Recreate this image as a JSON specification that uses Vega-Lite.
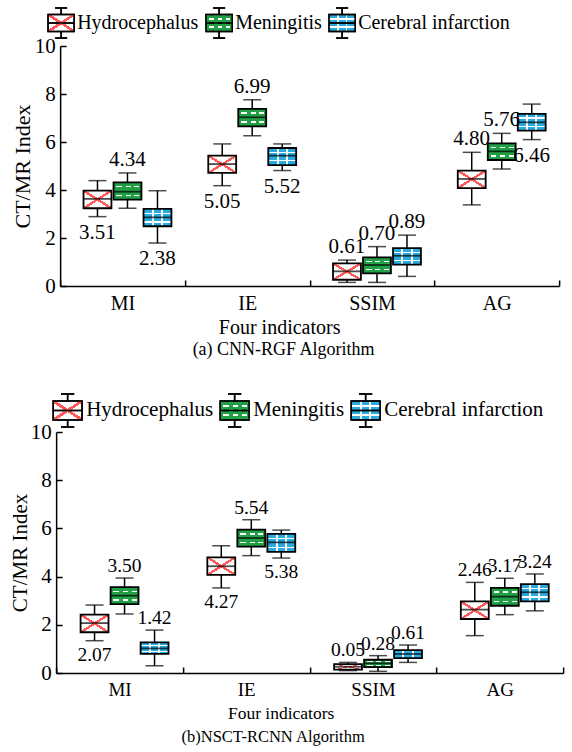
{
  "$schema": "https://vega.github.io/schema/vega-lite/v6.json",
  "padding": {"left": 9, "top": 7, "right": 4, "bottom": 4},
  "config": {
    "view": {"stroke": null},
    "font": "Liberation Serif",
    "text": {"font": "Liberation Serif"},
    "title": {"font": "Liberation Serif", "fontWeight": "normal", "color": "black"},
    "axis": {"labelFont": "Liberation Serif", "titleFont": "Liberation Serif", "titleFontWeight": "normal", "labelColor": "black", "titleColor": "black", "tickColor": "black", "domainColor": "black", "tickSize": -6, "tickWidth": 1.5, "domainWidth": 1.5, "grid": false},
    "axisY": {"labelPadding": 11, "titlePadding": 0, "labelFontSize": 21, "titleFontSize": 21.5},
    "axisX": {"labelPadding": 13, "labelAngle": 0},
    "legend": {"labelFont": "Liberation Serif", "titleFont": "Liberation Serif", "labelColor": "black"}
  },
  "data": {"values": [
    {"algo": "a", "ind": "MI", "dis": "Hydrocephalus", "min": 2.89, "q1": 3.24, "med": 3.63, "q3": 3.97, "max": 4.39, "lab": "3.51", "pos": "below"},
    {"algo": "a", "ind": "MI", "dis": "Meningitis", "min": 3.24, "q1": 3.6, "med": 3.93, "q3": 4.32, "max": 4.71, "lab": "4.34", "pos": "above"},
    {"algo": "a", "ind": "MI", "dis": "Cerebral infarction", "min": 1.79, "q1": 2.49, "med": 2.86, "q3": 3.21, "max": 3.97, "lab": "2.38", "pos": "below"},
    {"algo": "a", "ind": "IE", "dis": "Hydrocephalus", "min": 4.18, "q1": 4.71, "med": 5.08, "q3": 5.43, "max": 5.92, "lab": "5.05", "pos": "below"},
    {"algo": "a", "ind": "IE", "dis": "Meningitis", "min": 6.26, "q1": 6.65, "med": 7.03, "q3": 7.38, "max": 7.76, "lab": "6.99", "pos": "above"},
    {"algo": "a", "ind": "IE", "dis": "Cerebral infarction", "min": 4.81, "q1": 5.04, "med": 5.43, "q3": 5.75, "max": 5.92, "lab": "5.52", "pos": "below"},
    {"algo": "a", "ind": "SSIM", "dis": "Hydrocephalus", "min": 0.15, "q1": 0.26, "med": 0.61, "q3": 0.94, "max": 1.08, "lab": "0.61", "pos": "above"},
    {"algo": "a", "ind": "SSIM", "dis": "Meningitis", "min": 0.15, "q1": 0.53, "med": 0.875, "q3": 1.19, "max": 1.64, "lab": "0.70", "pos": "above"},
    {"algo": "a", "ind": "SSIM", "dis": "Cerebral infarction", "min": 0.4, "q1": 0.89, "med": 1.26, "q3": 1.58, "max": 2.12, "lab": "0.89", "pos": "above"},
    {"algo": "a", "ind": "AG", "dis": "Hydrocephalus", "min": 3.38, "q1": 4.08, "med": 4.46, "q3": 4.81, "max": 5.57, "lab": "4.80", "pos": "above"},
    {"algo": "a", "ind": "AG", "dis": "Meningitis", "min": 4.875, "q1": 5.25, "med": 5.61, "q3": 5.94, "max": 6.36, "lab": "5.76", "pos": "above"},
    {"algo": "a", "ind": "AG", "dis": "Cerebral infarction", "min": 6.1, "q1": 6.47, "med": 6.82, "q3": 7.17, "max": 7.58, "lab": "6.46", "pos": "below"},
    {"algo": "b", "ind": "MI", "dis": "Hydrocephalus", "min": 1.34, "q1": 1.69, "med": 2.07, "q3": 2.42, "max": 2.82, "lab": "2.07", "pos": "below"},
    {"algo": "b", "ind": "MI", "dis": "Meningitis", "min": 2.45, "q1": 2.86, "med": 3.21, "q3": 3.56, "max": 3.94, "lab": "3.50", "pos": "above"},
    {"algo": "b", "ind": "MI", "dis": "Cerebral infarction", "min": 0.3, "q1": 0.79, "med": 1.02, "q3": 1.27, "max": 1.78, "lab": "1.42", "pos": "above"},
    {"algo": "b", "ind": "IE", "dis": "Hydrocephalus", "min": 3.53, "q1": 4.07, "med": 4.43, "q3": 4.8, "max": 5.28, "lab": "4.27", "pos": "below"},
    {"algo": "b", "ind": "IE", "dis": "Meningitis", "min": 4.87, "q1": 5.24, "med": 5.6, "q3": 5.95, "max": 6.36, "lab": "5.54", "pos": "above"},
    {"algo": "b", "ind": "IE", "dis": "Cerebral infarction", "min": 4.77, "q1": 5.03, "med": 5.42, "q3": 5.77, "max": 5.93, "lab": "5.38", "pos": "below"},
    {"algo": "b", "ind": "SSIM", "dis": "Hydrocephalus", "min": 0.1, "q1": 0.14, "med": 0.26, "q3": 0.37, "max": 0.44, "lab": "0.05", "pos": "above"},
    {"algo": "b", "ind": "SSIM", "dis": "Meningitis", "min": 0.07, "q1": 0.24, "med": 0.4, "q3": 0.55, "max": 0.72, "lab": "0.28", "pos": "above"},
    {"algo": "b", "ind": "SSIM", "dis": "Cerebral infarction", "min": 0.44, "q1": 0.62, "med": 0.79, "q3": 0.95, "max": 1.16, "lab": "0.61", "pos": "above"},
    {"algo": "b", "ind": "AG", "dis": "Hydrocephalus", "min": 1.55, "q1": 2.24, "med": 2.63, "q3": 2.97, "max": 3.76, "lab": "2.46", "pos": "above"},
    {"algo": "b", "ind": "AG", "dis": "Meningitis", "min": 2.42, "q1": 2.79, "med": 3.17, "q3": 3.53, "max": 3.93, "lab": "3.17", "pos": "above"},
    {"algo": "b", "ind": "AG", "dis": "Cerebral infarction", "min": 2.58, "q1": 2.97, "med": 3.35, "q3": 3.69, "max": 4.11, "lab": "3.24", "pos": "above"}
  ]},
  "vconcat": [
    {
      "width": 499, "height": 240,
      "transform": [{"filter": "datum.algo === 'a'"}],
      "title": {"text": "(a) CNN-RGF Algorithm", "orient": "bottom", "anchor": "middle", "frame": "group", "dx": -26, "offset": 4, "font": "Liberation Serif", "fontSize": 18, "fontWeight": "normal", "color": "black"},
      "encoding": {
        "x": {"field": "ind", "type": "nominal", "sort": ["MI", "IE", "SSIM", "AG"], "scale": {"paddingInner": 0, "paddingOuter": 0},
          "axis": {"title": "Four indicators", "tickBand": "extent", "labelFontSize": 20, "titleFontSize": 20, "titlePadding": 4, "titleX": 219}},
        "xOffset": {"field": "dis", "type": "nominal", "sort": ["Hydrocephalus", "Meningitis", "Cerebral infarction"], "scale": {"paddingInner": 0.07, "paddingOuter": 0.614, "align": 0.635}}
      },
      "layer": [
        {"mark": {"type": "rule", "color": "black", "strokeWidth": 1.5},
         "encoding": {"y": {"field": "min", "type": "quantitative", "scale": {"domain": [0, 10], "nice": false}, "title": "CT/MR Index", "axis": {"values": [0, 2, 4, 6, 8, 10], "titleFontSize": 22}},
           "y2": {"field": "max"}}},
        {"mark": {"type": "tick", "color": "black", "size": 18, "thickness": 1.5},
         "encoding": {"y": {"field": "min", "type": "quantitative", "scale": {"domain": [0, 10], "nice": false}, "title": "CT/MR Index"}}},
        {"mark": {"type": "tick", "color": "black", "size": 18, "thickness": 1.5},
         "encoding": {"y": {"field": "max", "type": "quantitative", "scale": {"domain": [0, 10], "nice": false}, "title": "CT/MR Index"}}},
        {"transform": [{"filter": "datum.dis === 'Hydrocephalus'"}],
         "mark": {"type": "bar", "fill": {"gradient": "linear", "x1": 0, "y1": 0, "x2": 1, "y2": 1, "stops": [{"offset": 0, "color": "#ffffff"}, {"offset": 0.46, "color": "#ffffff"}, {"offset": 0.46, "color": "#ff5a5a"}, {"offset": 0.54, "color": "#ff5a5a"}, {"offset": 0.54, "color": "#ffffff"}, {"offset": 1, "color": "#ffffff"}]}},
         "encoding": {"y": {"field": "q1", "type": "quantitative", "scale": {"domain": [0, 10], "nice": false}, "title": "CT/MR Index"}, "y2": {"field": "q3"}}},
        {"transform": [{"filter": "datum.dis === 'Hydrocephalus'"}],
         "mark": {"type": "bar", "fill": {"gradient": "linear", "x1": 0, "y1": 1, "x2": 1, "y2": 0, "stops": [{"offset": 0, "color": "rgba(255,255,255,0)"}, {"offset": 0.46, "color": "rgba(255,255,255,0)"}, {"offset": 0.46, "color": "#ff5a5a"}, {"offset": 0.54, "color": "#ff5a5a"}, {"offset": 0.54, "color": "rgba(255,255,255,0)"}, {"offset": 1, "color": "rgba(255,255,255,0)"}]}},
         "encoding": {"y": {"field": "q1", "type": "quantitative", "scale": {"domain": [0, 10], "nice": false}, "title": "CT/MR Index"}, "y2": {"field": "q3"}}},
        {"transform": [{"filter": "datum.dis === 'Meningitis'"}],
         "mark": {"type": "bar", "fill": {"gradient": "linear", "x1": 0.5, "y1": 0, "x2": 0.5, "y2": 1, "stops": [{"offset": 0, "color": "#22a046"}, {"offset": 0.2, "color": "#22a046"}, {"offset": 0.2, "color": "#ffffff"}, {"offset": 0.29, "color": "#ffffff"}, {"offset": 0.29, "color": "#22a046"}, {"offset": 0.71, "color": "#22a046"}, {"offset": 0.71, "color": "#ffffff"}, {"offset": 0.8, "color": "#ffffff"}, {"offset": 0.8, "color": "#22a046"}, {"offset": 1, "color": "#22a046"}]}},
         "encoding": {"y": {"field": "q1", "type": "quantitative", "scale": {"domain": [0, 10], "nice": false}, "title": "CT/MR Index"}, "y2": {"field": "q3"}}},
        {"transform": [{"filter": "datum.dis === 'Meningitis'"}],
         "mark": {"type": "bar", "fill": {"gradient": "linear", "x1": 0, "y1": 0, "x2": 1, "y2": 0, "stops": [{"offset": 0, "color": "#22a046"}, {"offset": 0.1, "color": "#22a046"}, {"offset": 0.1, "color": "rgba(255,255,255,0)"}, {"offset": 0.31, "color": "rgba(255,255,255,0)"}, {"offset": 0.31, "color": "#22a046"}, {"offset": 0.44, "color": "#22a046"}, {"offset": 0.44, "color": "rgba(255,255,255,0)"}, {"offset": 0.62, "color": "rgba(255,255,255,0)"}, {"offset": 0.62, "color": "#22a046"}, {"offset": 0.75, "color": "#22a046"}, {"offset": 0.75, "color": "rgba(255,255,255,0)"}, {"offset": 0.93, "color": "rgba(255,255,255,0)"}, {"offset": 0.93, "color": "#22a046"}, {"offset": 1, "color": "#22a046"}]}},
         "encoding": {"y": {"field": "q1", "type": "quantitative", "scale": {"domain": [0, 10], "nice": false}, "title": "CT/MR Index"}, "y2": {"field": "q3"}}},
        {"transform": [{"filter": "datum.dis === 'Cerebral infarction'"}],
         "mark": {"type": "bar", "fill": {"gradient": "linear", "x1": 0, "y1": 0, "x2": 1, "y2": 0, "stops": [{"offset": 0, "color": "#29abe2"}, {"offset": 0.3, "color": "#29abe2"}, {"offset": 0.3, "color": "#ffffff"}, {"offset": 0.37, "color": "#ffffff"}, {"offset": 0.37, "color": "#29abe2"}, {"offset": 0.63, "color": "#29abe2"}, {"offset": 0.63, "color": "#ffffff"}, {"offset": 0.7, "color": "#ffffff"}, {"offset": 0.7, "color": "#29abe2"}, {"offset": 1, "color": "#29abe2"}]}},
         "encoding": {"y": {"field": "q1", "type": "quantitative", "scale": {"domain": [0, 10], "nice": false}, "title": "CT/MR Index"}, "y2": {"field": "q3"}}},
        {"transform": [{"filter": "datum.dis === 'Cerebral infarction'"}],
         "mark": {"type": "bar", "fill": {"gradient": "linear", "x1": 0.5, "y1": 0, "x2": 0.5, "y2": 1, "stops": [{"offset": 0, "color": "rgba(255,255,255,0)"}, {"offset": 0.21, "color": "rgba(255,255,255,0)"}, {"offset": 0.21, "color": "#ffffff"}, {"offset": 0.29, "color": "#ffffff"}, {"offset": 0.29, "color": "rgba(255,255,255,0)"}, {"offset": 0.71, "color": "rgba(255,255,255,0)"}, {"offset": 0.71, "color": "#ffffff"}, {"offset": 0.79, "color": "#ffffff"}, {"offset": 0.79, "color": "rgba(255,255,255,0)"}, {"offset": 1, "color": "rgba(255,255,255,0)"}]}},
         "encoding": {"y": {"field": "q1", "type": "quantitative", "scale": {"domain": [0, 10], "nice": false}, "title": "CT/MR Index"}, "y2": {"field": "q3"}}},
        {"mark": {"type": "bar", "fill": "transparent", "stroke": "black", "strokeWidth": 1.8},
         "encoding": {"y": {"field": "q1", "type": "quantitative", "scale": {"domain": [0, 10], "nice": false}, "title": "CT/MR Index"}, "y2": {"field": "q3"}}},
        {"mark": {"type": "tick", "color": "black", "size": 28, "thickness": 1.8},
         "encoding": {"y": {"field": "med", "type": "quantitative", "scale": {"domain": [0, 10], "nice": false}, "title": "CT/MR Index"}}},
        {"transform": [{"filter": "datum.pos === 'above'"}],
         "mark": {"type": "text", "baseline": "alphabetic", "dy": -7, "font": "Liberation Serif", "fontSize": 21, "color": "black"},
         "encoding": {"y": {"field": "max", "type": "quantitative", "scale": {"domain": [0, 10], "nice": false}, "title": "CT/MR Index"}, "text": {"field": "lab"}}},
        {"transform": [{"filter": "datum.pos === 'below'"}],
         "mark": {"type": "text", "baseline": "top", "dy": 5, "font": "Liberation Serif", "fontSize": 21, "color": "black"},
         "encoding": {"y": {"field": "min", "type": "quantitative", "scale": {"domain": [0, 10], "nice": false}, "title": "CT/MR Index"}, "text": {"field": "lab"}}},
        {"mark": {"type": "point", "opacity": 0},
         "encoding": {"y": {"field": "med", "type": "quantitative", "scale": {"domain": [0, 10], "nice": false}, "title": "CT/MR Index"},
           "stroke": {"field": "dis", "type": "nominal", "scale": {"domain": ["Hydrocephalus", "Meningitis", "Cerebral infarction"], "range": ["black", "black", "black"]},
             "legend": {"orient": "none", "legendX": -15, "legendY": -39, "direction": "horizontal", "columns": 3, "title": null, "padding": 0,
               "symbolType": "M-0.87,-0.57H0.87V0.57H-0.87Z M0,-0.57V-1 M-0.4,-1H0.4 M0,0.57V1 M-0.4,1H0.4 M-0.87,0H0.87",
               "symbolSize": 900, "symbolStrokeWidth": 1.5, "symbolOpacity": 1,
               "labelFont": "Liberation Serif", "labelFontSize": 20, "labelColor": "black", "labelOffset": 0, "columnPadding": 3, "labelLimit": 400,
               "encoding": {"symbols": {"opacity": {"value": 1}, "fill": {"value": {"expr": "datum.value === 'Hydrocephalus' ? {gradient: 'linear', x1: 0.785, y1: 0, x2: 0.215, y2: 1, stops: [{offset: 0, color: '#ffffff'}, {offset: 0.46, color: '#ffffff'}, {offset: 0.46, color: '#ff5a5a'}, {offset: 0.54, color: '#ff5a5a'}, {offset: 0.54, color: '#ffffff'}, {offset: 1, color: '#ffffff'}]} : datum.value === 'Meningitis' ? {gradient: 'linear', x1: 0.5, y1: 0, x2: 0.5, y2: 1, stops: [{offset: 0, color: '#22a046'}, {offset: 0.33, color: '#22a046'}, {offset: 0.33, color: '#ffffff'}, {offset: 0.385, color: '#ffffff'}, {offset: 0.385, color: '#22a046'}, {offset: 0.615, color: '#22a046'}, {offset: 0.615, color: '#ffffff'}, {offset: 0.67, color: '#ffffff'}, {offset: 0.67, color: '#22a046'}, {offset: 1, color: '#22a046'}]} : {gradient: 'linear', x1: 0, y1: 0, x2: 1, y2: 0, stops: [{offset: 0, color: '#29abe2'}, {offset: 0.3, color: '#29abe2'}, {offset: 0.3, color: '#ffffff'}, {offset: 0.37, color: '#ffffff'}, {offset: 0.37, color: '#29abe2'}, {offset: 0.63, color: '#29abe2'}, {offset: 0.63, color: '#ffffff'}, {offset: 0.7, color: '#ffffff'}, {offset: 0.7, color: '#29abe2'}, {offset: 1, color: '#29abe2'}]}"}}}}}}}},
        {"mark": {"type": "point", "opacity": 0},
         "encoding": {"y": {"field": "med", "type": "quantitative", "scale": {"domain": [0, 10], "nice": false}, "title": "CT/MR Index"},
           "shape": {"field": "dis", "type": "nominal", "sort": ["Hydrocephalus", "Meningitis", "Cerebral infarction"], "scale": {"range": ["M-0.87,-0.57H0.87V0.57H-0.87Z M0,-0.57V-1 M-0.4,-1H0.4 M0,0.57V1 M-0.4,1H0.4 M-0.87,0H0.87", "M-0.87,-0.57H0.87V0.57H-0.87Z M0,-0.57V-1 M-0.4,-1H0.4 M0,0.57V1 M-0.4,1H0.4 M-0.87,0H0.87", "M-0.87,-0.57H0.87V0.57H-0.87Z M0,-0.57V-1 M-0.4,-1H0.4 M0,0.57V1 M-0.4,1H0.4 M-0.87,0H0.87"]},
             "legend": {"orient": "none", "legendX": -15, "legendY": -39, "direction": "horizontal", "columns": 3, "title": null, "padding": 0,
               "symbolSize": 900, "symbolStrokeWidth": 1.5, "symbolOpacity": 1,
               "labelFont": "Liberation Serif", "labelFontSize": 20, "labelColor": "black", "labelOpacity": 0, "labelOffset": 0, "columnPadding": 3, "labelLimit": 400,
               "encoding": {"symbols": {"opacity": {"value": 1}, "stroke": {"value": "black"}, "strokeWidth": {"value": 1.5}, "fill": {"value": {"expr": "datum.value === 'Hydrocephalus' ? {gradient: 'linear', x1: 0.215, y1: 0, x2: 0.785, y2: 1, stops: [{offset: 0, color: 'rgba(255,255,255,0)'}, {offset: 0.46, color: 'rgba(255,255,255,0)'}, {offset: 0.46, color: '#ff5a5a'}, {offset: 0.54, color: '#ff5a5a'}, {offset: 0.54, color: 'rgba(255,255,255,0)'}, {offset: 1, color: 'rgba(255,255,255,0)'}]} : datum.value === 'Meningitis' ? {gradient: 'linear', x1: 0, y1: 0, x2: 1, y2: 0, stops: [{offset: 0, color: '#22a046'}, {offset: 0.1, color: '#22a046'}, {offset: 0.1, color: 'rgba(255,255,255,0)'}, {offset: 0.31, color: 'rgba(255,255,255,0)'}, {offset: 0.31, color: '#22a046'}, {offset: 0.44, color: '#22a046'}, {offset: 0.44, color: 'rgba(255,255,255,0)'}, {offset: 0.62, color: 'rgba(255,255,255,0)'}, {offset: 0.62, color: '#22a046'}, {offset: 0.75, color: '#22a046'}, {offset: 0.75, color: 'rgba(255,255,255,0)'}, {offset: 0.93, color: 'rgba(255,255,255,0)'}, {offset: 0.93, color: '#22a046'}, {offset: 1, color: '#22a046'}]} : {gradient: 'linear', x1: 0.5, y1: 0, x2: 0.5, y2: 1, stops: [{offset: 0, color: 'rgba(255,255,255,0)'}, {offset: 0.33, color: 'rgba(255,255,255,0)'}, {offset: 0.33, color: '#ffffff'}, {offset: 0.385, color: '#ffffff'}, {offset: 0.385, color: 'rgba(255,255,255,0)'}, {offset: 0.615, color: 'rgba(255,255,255,0)'}, {offset: 0.615, color: '#ffffff'}, {offset: 0.67, color: '#ffffff'}, {offset: 0.67, color: 'rgba(255,255,255,0)'}, {offset: 1, color: 'rgba(255,255,255,0)'}]}"}}}}}}}}
      ]
    },
    {
      "width": 507, "height": 241,
      "transform": [{"filter": "datum.algo === 'b'"}],
      "title": {"text": "(b)NSCT-RCNN Algorithm", "orient": "bottom", "anchor": "middle", "frame": "group", "dx": -36.5, "offset": 7, "font": "Liberation Serif", "fontSize": 16.5, "fontWeight": "normal", "color": "black"},
      "encoding": {
        "x": {"field": "ind", "type": "nominal", "sort": ["MI", "IE", "SSIM", "AG"], "scale": {"paddingInner": 0, "paddingOuter": 0},
          "axis": {"title": "Four indicators", "tickBand": "extent", "labelFontSize": 19, "titleFontSize": 17.5, "titlePadding": 5.5, "titleX": 224.5}},
        "xOffset": {"field": "dis", "type": "nominal", "sort": ["Hydrocephalus", "Meningitis", "Cerebral infarction"], "scale": {"paddingInner": 0.07, "paddingOuter": 0.647, "align": 0.63}}
      },
      "layer": [
        {"mark": {"type": "rule", "color": "black", "strokeWidth": 1.5},
         "encoding": {"y": {"field": "min", "type": "quantitative", "scale": {"domain": [0, 10], "nice": false}, "title": "CT/MR Index", "axis": {"values": [0, 2, 4, 6, 8, 10], "titleFontSize": 21}},
           "y2": {"field": "max"}}},
        {"mark": {"type": "tick", "color": "black", "size": 18, "thickness": 1.5},
         "encoding": {"y": {"field": "min", "type": "quantitative", "scale": {"domain": [0, 10], "nice": false}, "title": "CT/MR Index"}}},
        {"mark": {"type": "tick", "color": "black", "size": 18, "thickness": 1.5},
         "encoding": {"y": {"field": "max", "type": "quantitative", "scale": {"domain": [0, 10], "nice": false}, "title": "CT/MR Index"}}},
        {"transform": [{"filter": "datum.dis === 'Hydrocephalus'"}],
         "mark": {"type": "bar", "fill": {"gradient": "linear", "x1": 0, "y1": 0, "x2": 1, "y2": 1, "stops": [{"offset": 0, "color": "#ffffff"}, {"offset": 0.46, "color": "#ffffff"}, {"offset": 0.46, "color": "#ff5a5a"}, {"offset": 0.54, "color": "#ff5a5a"}, {"offset": 0.54, "color": "#ffffff"}, {"offset": 1, "color": "#ffffff"}]}},
         "encoding": {"y": {"field": "q1", "type": "quantitative", "scale": {"domain": [0, 10], "nice": false}, "title": "CT/MR Index"}, "y2": {"field": "q3"}}},
        {"transform": [{"filter": "datum.dis === 'Hydrocephalus'"}],
         "mark": {"type": "bar", "fill": {"gradient": "linear", "x1": 0, "y1": 1, "x2": 1, "y2": 0, "stops": [{"offset": 0, "color": "rgba(255,255,255,0)"}, {"offset": 0.46, "color": "rgba(255,255,255,0)"}, {"offset": 0.46, "color": "#ff5a5a"}, {"offset": 0.54, "color": "#ff5a5a"}, {"offset": 0.54, "color": "rgba(255,255,255,0)"}, {"offset": 1, "color": "rgba(255,255,255,0)"}]}},
         "encoding": {"y": {"field": "q1", "type": "quantitative", "scale": {"domain": [0, 10], "nice": false}, "title": "CT/MR Index"}, "y2": {"field": "q3"}}},
        {"transform": [{"filter": "datum.dis === 'Meningitis'"}],
         "mark": {"type": "bar", "fill": {"gradient": "linear", "x1": 0.5, "y1": 0, "x2": 0.5, "y2": 1, "stops": [{"offset": 0, "color": "#22a046"}, {"offset": 0.2, "color": "#22a046"}, {"offset": 0.2, "color": "#ffffff"}, {"offset": 0.29, "color": "#ffffff"}, {"offset": 0.29, "color": "#22a046"}, {"offset": 0.71, "color": "#22a046"}, {"offset": 0.71, "color": "#ffffff"}, {"offset": 0.8, "color": "#ffffff"}, {"offset": 0.8, "color": "#22a046"}, {"offset": 1, "color": "#22a046"}]}},
         "encoding": {"y": {"field": "q1", "type": "quantitative", "scale": {"domain": [0, 10], "nice": false}, "title": "CT/MR Index"}, "y2": {"field": "q3"}}},
        {"transform": [{"filter": "datum.dis === 'Meningitis'"}],
         "mark": {"type": "bar", "fill": {"gradient": "linear", "x1": 0, "y1": 0, "x2": 1, "y2": 0, "stops": [{"offset": 0, "color": "#22a046"}, {"offset": 0.1, "color": "#22a046"}, {"offset": 0.1, "color": "rgba(255,255,255,0)"}, {"offset": 0.31, "color": "rgba(255,255,255,0)"}, {"offset": 0.31, "color": "#22a046"}, {"offset": 0.44, "color": "#22a046"}, {"offset": 0.44, "color": "rgba(255,255,255,0)"}, {"offset": 0.62, "color": "rgba(255,255,255,0)"}, {"offset": 0.62, "color": "#22a046"}, {"offset": 0.75, "color": "#22a046"}, {"offset": 0.75, "color": "rgba(255,255,255,0)"}, {"offset": 0.93, "color": "rgba(255,255,255,0)"}, {"offset": 0.93, "color": "#22a046"}, {"offset": 1, "color": "#22a046"}]}},
         "encoding": {"y": {"field": "q1", "type": "quantitative", "scale": {"domain": [0, 10], "nice": false}, "title": "CT/MR Index"}, "y2": {"field": "q3"}}},
        {"transform": [{"filter": "datum.dis === 'Cerebral infarction'"}],
         "mark": {"type": "bar", "fill": {"gradient": "linear", "x1": 0, "y1": 0, "x2": 1, "y2": 0, "stops": [{"offset": 0, "color": "#29abe2"}, {"offset": 0.3, "color": "#29abe2"}, {"offset": 0.3, "color": "#ffffff"}, {"offset": 0.37, "color": "#ffffff"}, {"offset": 0.37, "color": "#29abe2"}, {"offset": 0.63, "color": "#29abe2"}, {"offset": 0.63, "color": "#ffffff"}, {"offset": 0.7, "color": "#ffffff"}, {"offset": 0.7, "color": "#29abe2"}, {"offset": 1, "color": "#29abe2"}]}},
         "encoding": {"y": {"field": "q1", "type": "quantitative", "scale": {"domain": [0, 10], "nice": false}, "title": "CT/MR Index"}, "y2": {"field": "q3"}}},
        {"transform": [{"filter": "datum.dis === 'Cerebral infarction'"}],
         "mark": {"type": "bar", "fill": {"gradient": "linear", "x1": 0.5, "y1": 0, "x2": 0.5, "y2": 1, "stops": [{"offset": 0, "color": "rgba(255,255,255,0)"}, {"offset": 0.21, "color": "rgba(255,255,255,0)"}, {"offset": 0.21, "color": "#ffffff"}, {"offset": 0.29, "color": "#ffffff"}, {"offset": 0.29, "color": "rgba(255,255,255,0)"}, {"offset": 0.71, "color": "rgba(255,255,255,0)"}, {"offset": 0.71, "color": "#ffffff"}, {"offset": 0.79, "color": "#ffffff"}, {"offset": 0.79, "color": "rgba(255,255,255,0)"}, {"offset": 1, "color": "rgba(255,255,255,0)"}]}},
         "encoding": {"y": {"field": "q1", "type": "quantitative", "scale": {"domain": [0, 10], "nice": false}, "title": "CT/MR Index"}, "y2": {"field": "q3"}}},
        {"mark": {"type": "bar", "fill": "transparent", "stroke": "black", "strokeWidth": 1.8},
         "encoding": {"y": {"field": "q1", "type": "quantitative", "scale": {"domain": [0, 10], "nice": false}, "title": "CT/MR Index"}, "y2": {"field": "q3"}}},
        {"mark": {"type": "tick", "color": "black", "size": 28, "thickness": 1.8},
         "encoding": {"y": {"field": "med", "type": "quantitative", "scale": {"domain": [0, 10], "nice": false}, "title": "CT/MR Index"}}},
        {"transform": [{"filter": "datum.pos === 'above'"}],
         "mark": {"type": "text", "baseline": "alphabetic", "dy": -6, "font": "Liberation Serif", "fontSize": 19.5, "color": "black"},
         "encoding": {"y": {"field": "max", "type": "quantitative", "scale": {"domain": [0, 10], "nice": false}, "title": "CT/MR Index"}, "text": {"field": "lab"}}},
        {"transform": [{"filter": "datum.pos === 'below'"}],
         "mark": {"type": "text", "baseline": "top", "dy": 5, "font": "Liberation Serif", "fontSize": 19.5, "color": "black"},
         "encoding": {"y": {"field": "min", "type": "quantitative", "scale": {"domain": [0, 10], "nice": false}, "title": "CT/MR Index"}, "text": {"field": "lab"}}},
        {"mark": {"type": "point", "opacity": 0},
         "encoding": {"y": {"field": "med", "type": "quantitative", "scale": {"domain": [0, 10], "nice": false}, "title": "CT/MR Index"},
           "stroke": {"field": "dis", "type": "nominal", "scale": {"domain": ["Hydrocephalus", "Meningitis", "Cerebral infarction"], "range": ["black", "black", "black"]},
             "legend": {"orient": "none", "legendX": -6, "legendY": -39.5, "direction": "horizontal", "columns": 3, "title": null, "padding": 0,
               "symbolType": "M-0.87,-0.57H0.87V0.57H-0.87Z M0,-0.57V-1 M-0.4,-1H0.4 M0,0.57V1 M-0.4,1H0.4 M-0.87,0H0.87",
               "symbolSize": 1100, "symbolStrokeWidth": 1.5, "symbolOpacity": 1,
               "labelFont": "Liberation Serif", "labelFontSize": 21, "labelColor": "black", "labelOffset": 1, "columnPadding": 3, "labelLimit": 400,
               "encoding": {"symbols": {"opacity": {"value": 1}, "fill": {"value": {"expr": "datum.value === 'Hydrocephalus' ? {gradient: 'linear', x1: 0.785, y1: 0, x2: 0.215, y2: 1, stops: [{offset: 0, color: '#ffffff'}, {offset: 0.46, color: '#ffffff'}, {offset: 0.46, color: '#ff5a5a'}, {offset: 0.54, color: '#ff5a5a'}, {offset: 0.54, color: '#ffffff'}, {offset: 1, color: '#ffffff'}]} : datum.value === 'Meningitis' ? {gradient: 'linear', x1: 0.5, y1: 0, x2: 0.5, y2: 1, stops: [{offset: 0, color: '#22a046'}, {offset: 0.33, color: '#22a046'}, {offset: 0.33, color: '#ffffff'}, {offset: 0.385, color: '#ffffff'}, {offset: 0.385, color: '#22a046'}, {offset: 0.615, color: '#22a046'}, {offset: 0.615, color: '#ffffff'}, {offset: 0.67, color: '#ffffff'}, {offset: 0.67, color: '#22a046'}, {offset: 1, color: '#22a046'}]} : {gradient: 'linear', x1: 0, y1: 0, x2: 1, y2: 0, stops: [{offset: 0, color: '#29abe2'}, {offset: 0.3, color: '#29abe2'}, {offset: 0.3, color: '#ffffff'}, {offset: 0.37, color: '#ffffff'}, {offset: 0.37, color: '#29abe2'}, {offset: 0.63, color: '#29abe2'}, {offset: 0.63, color: '#ffffff'}, {offset: 0.7, color: '#ffffff'}, {offset: 0.7, color: '#29abe2'}, {offset: 1, color: '#29abe2'}]}"}}}}}}}},
        {"mark": {"type": "point", "opacity": 0},
         "encoding": {"y": {"field": "med", "type": "quantitative", "scale": {"domain": [0, 10], "nice": false}, "title": "CT/MR Index"},
           "shape": {"field": "dis", "type": "nominal", "sort": ["Hydrocephalus", "Meningitis", "Cerebral infarction"], "scale": {"range": ["M-0.87,-0.57H0.87V0.57H-0.87Z M0,-0.57V-1 M-0.4,-1H0.4 M0,0.57V1 M-0.4,1H0.4 M-0.87,0H0.87", "M-0.87,-0.57H0.87V0.57H-0.87Z M0,-0.57V-1 M-0.4,-1H0.4 M0,0.57V1 M-0.4,1H0.4 M-0.87,0H0.87", "M-0.87,-0.57H0.87V0.57H-0.87Z M0,-0.57V-1 M-0.4,-1H0.4 M0,0.57V1 M-0.4,1H0.4 M-0.87,0H0.87"]},
             "legend": {"orient": "none", "legendX": -6, "legendY": -39.5, "direction": "horizontal", "columns": 3, "title": null, "padding": 0,
               "symbolSize": 1100, "symbolStrokeWidth": 1.5, "symbolOpacity": 1,
               "labelFont": "Liberation Serif", "labelFontSize": 21, "labelColor": "black", "labelOpacity": 0, "labelOffset": 1, "columnPadding": 3, "labelLimit": 400,
               "encoding": {"symbols": {"opacity": {"value": 1}, "stroke": {"value": "black"}, "strokeWidth": {"value": 1.5}, "fill": {"value": {"expr": "datum.value === 'Hydrocephalus' ? {gradient: 'linear', x1: 0.215, y1: 0, x2: 0.785, y2: 1, stops: [{offset: 0, color: 'rgba(255,255,255,0)'}, {offset: 0.46, color: 'rgba(255,255,255,0)'}, {offset: 0.46, color: '#ff5a5a'}, {offset: 0.54, color: '#ff5a5a'}, {offset: 0.54, color: 'rgba(255,255,255,0)'}, {offset: 1, color: 'rgba(255,255,255,0)'}]} : datum.value === 'Meningitis' ? {gradient: 'linear', x1: 0, y1: 0, x2: 1, y2: 0, stops: [{offset: 0, color: '#22a046'}, {offset: 0.1, color: '#22a046'}, {offset: 0.1, color: 'rgba(255,255,255,0)'}, {offset: 0.31, color: 'rgba(255,255,255,0)'}, {offset: 0.31, color: '#22a046'}, {offset: 0.44, color: '#22a046'}, {offset: 0.44, color: 'rgba(255,255,255,0)'}, {offset: 0.62, color: 'rgba(255,255,255,0)'}, {offset: 0.62, color: '#22a046'}, {offset: 0.75, color: '#22a046'}, {offset: 0.75, color: 'rgba(255,255,255,0)'}, {offset: 0.93, color: 'rgba(255,255,255,0)'}, {offset: 0.93, color: '#22a046'}, {offset: 1, color: '#22a046'}]} : {gradient: 'linear', x1: 0.5, y1: 0, x2: 0.5, y2: 1, stops: [{offset: 0, color: 'rgba(255,255,255,0)'}, {offset: 0.33, color: 'rgba(255,255,255,0)'}, {offset: 0.33, color: '#ffffff'}, {offset: 0.385, color: '#ffffff'}, {offset: 0.385, color: 'rgba(255,255,255,0)'}, {offset: 0.615, color: 'rgba(255,255,255,0)'}, {offset: 0.615, color: '#ffffff'}, {offset: 0.67, color: '#ffffff'}, {offset: 0.67, color: 'rgba(255,255,255,0)'}, {offset: 1, color: 'rgba(255,255,255,0)'}]}"}}}}}}}}
      ]
    }
  ],
  "center": true,
  "spacing": 33,
  "resolve": {"scale": {"x": "independent", "y": "independent", "xOffset": "independent", "stroke": "independent", "shape": "independent"}, "legend": {"stroke": "independent", "shape": "independent"}}
}
